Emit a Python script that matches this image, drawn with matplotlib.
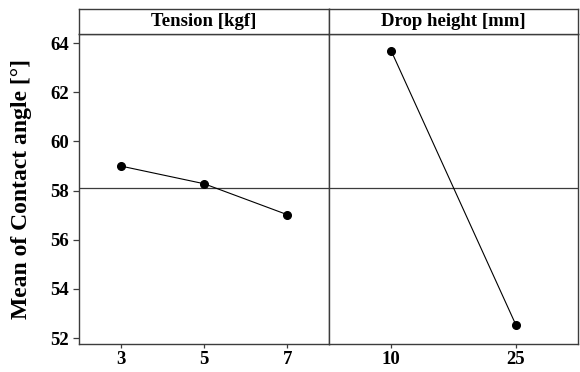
import numpy as np
import matplotlib
matplotlib.use('Agg')
import matplotlib.pyplot as plt

# main effects data
tension_levels = ['3', '5', '7']
tension_means = [59.00, 58.28, 57.02]
drop_levels = ['10', '25']
drop_means = [63.68, 52.55]
panel_titles = ['Tension [kgf]', 'Drop height [mm]']
y_ticks = [52, 54, 56, 58, 60, 62, 64]

plt.rcParams['font.family'] = 'Liberation Serif'
plt.rcParams['font.weight'] = 'bold'

W, H = 580, 372
fig = plt.figure(figsize=(W / 100, H / 100), dpi=100)

frame_col = '#3c3c3c'
grand_mean = np.mean(tension_means)

x0, xm, x1 = 79, 329, 578
y_top, y_head, y_bot = 9, 34, 344

panels = [(tension_levels, tension_means), (drop_levels, drop_means)]
edges = [(x0, xm), (xm, x1)]

for i, ((levels, means), (xa, xb)) in enumerate(zip(panels, edges)):
    ax = fig.add_axes([xa / W, 1 - y_bot / H, (xb - xa) / W, (y_bot - y_head) / H])
    hx = fig.add_axes([xa / W, 1 - y_head / H, (xb - xa) / W, (y_head - y_top) / H])

    pos = np.arange(len(levels))
    ax.plot(pos, means, color='black', lw=0.8, marker='o', ms=5.5, zorder=3)
    ax.axhline(grand_mean, color=frame_col, lw=0.9, zorder=2)
    ax.set_xlim(-0.5, len(levels) - 0.5)
    ax.set_ylim(51.76, 64.37)
    ax.set_xticks(pos)
    ax.set_xticklabels(levels, fontsize=13.5, fontweight='bold')
    ax.tick_params(axis='x', length=3, width=0.9, color=frame_col, pad=2)
    if i == 0:
        ax.set_yticks(y_ticks)
        ax.set_yticklabels([str(t) for t in y_ticks], fontsize=13.5, fontweight='bold')
        ax.tick_params(axis='y', length=4, width=0.9, color=frame_col, pad=3)
        ax.set_ylabel('Mean of Contact angle [°]', fontsize=17, fontweight='bold', labelpad=13)
    else:
        ax.set_yticks([])
    for s in ax.spines.values():
        s.set_color(frame_col)
        s.set_linewidth(1.0)

    hx.set_xticks([])
    hx.set_yticks([])
    for s in hx.spines.values():
        s.set_color(frame_col)
        s.set_linewidth(1.0)
    hx.text(0.5, 0.5, panel_titles[i], ha='center', va='center',
            fontsize=13.5, fontweight='bold', transform=hx.transAxes)

fig.savefig('out.png', dpi=100, facecolor='white')
